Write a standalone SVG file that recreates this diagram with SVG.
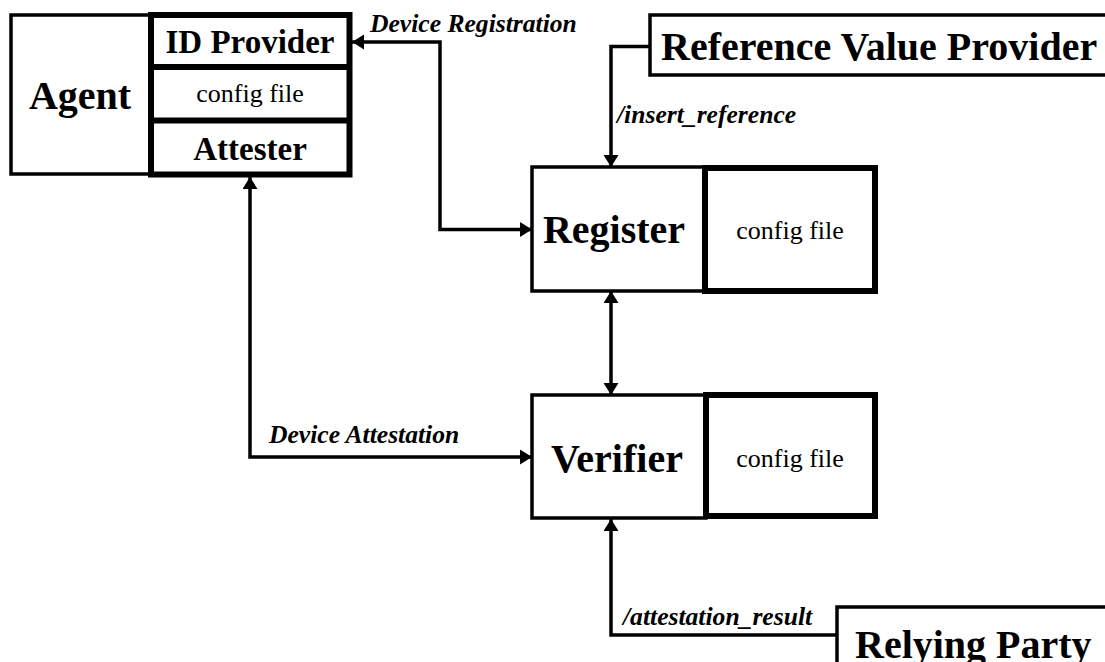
<svg xmlns="http://www.w3.org/2000/svg" width="1105" height="662" viewBox="0 0 1105 662">
  <defs>
    <style>
      .thin { fill: #ffffff; stroke: #000000; stroke-width: 3.5; }
      .thick { fill: #ffffff; stroke: #000000; stroke-width: 6; }
      .div { stroke: #000000; stroke-width: 6; }
      .wire { fill: none; stroke: #000000; stroke-width: 3.5; }
      .t { font-family: "Liberation Serif", "Times New Roman", serif; fill: #000000; }
      .big { font-size: 40px; font-weight: bold; text-anchor: middle; }
      .mid { font-size: 33px; font-weight: bold; text-anchor: middle; }
      .cfg { font-size: 26px; text-anchor: middle; }
      .lbl { font-size: 25.6px; font-weight: bold; font-style: italic; }
      .ext { font-size: 40px; font-weight: bold; }
    </style>
    <marker id="arrow" markerUnits="userSpaceOnUse" markerWidth="13" markerHeight="16" refX="12" refY="7.5" orient="auto-start-reverse" viewBox="0 0 13 16">
      <path d="M0,0 L12,7.5 L0,15 z" fill="#000000"/>
    </marker>
  </defs>

  <rect width="1105" height="662" fill="#ffffff"/>

  <!-- connectors -->
  <g id="connectors">
    <path class="wire" d="M532,229.5 H440 V42 H352" marker-start="url(#arrow)" marker-end="url(#arrow)"/>
    <path class="wire" d="M250,177 V457 H532" marker-start="url(#arrow)" marker-end="url(#arrow)"/>
    <path class="wire" d="M611,291 V395" marker-start="url(#arrow)" marker-end="url(#arrow)"/>
    <path class="wire" d="M650,46.5 H611 V167" marker-end="url(#arrow)"/>
    <path class="wire" d="M837,635 H611 V519" marker-end="url(#arrow)"/>
    <text class="t lbl" x="370" y="32">Device Registration</text>
    <text class="t lbl" x="269" y="443">Device Attestation</text>
    <text class="t lbl" x="617" y="123">/insert_reference</text>
    <text class="t lbl" x="623" y="625">/attestation_result</text>
  </g>

  <!-- agent with its three parts -->
  <g id="agent">
    <rect class="thin" x="11" y="15" width="140" height="159"/>
    <text class="t big" x="80" y="109">Agent</text>
  </g>
  <g id="agent-parts">
    <rect class="thick" x="151" y="15" width="198.5" height="159.5"/>
    <line class="div" x1="151" y1="67" x2="349.5" y2="67"/>
    <line class="div" x1="151" y1="120.5" x2="349.5" y2="120.5"/>
  </g>
  <g id="id-provider">
    <text class="t mid" x="250" y="53">ID Provider</text>
  </g>
  <g id="agent-config">
    <text class="t cfg" x="250" y="102">config file</text>
  </g>
  <g id="attester">
    <text class="t mid" x="250" y="160">Attester</text>
  </g>

  <!-- register -->
  <g id="register">
    <rect class="thin" x="532" y="167" width="173" height="124"/>
    <text class="t big" x="614" y="243">Register</text>
  </g>
  <g id="register-config">
    <rect class="thick" x="705" y="168" width="170" height="123"/>
    <text class="t cfg" x="790" y="239">config file</text>
  </g>

  <!-- verifier -->
  <g id="verifier">
    <rect class="thin" x="532" y="395" width="174" height="123"/>
    <text class="t big" x="617" y="472">Verifier</text>
  </g>
  <g id="verifier-config">
    <rect class="thick" x="706" y="395" width="169" height="121"/>
    <text class="t cfg" x="790" y="467">config file</text>
  </g>

  <!-- external parties -->
  <g id="reference-value-provider">
    <rect class="thin" x="650" y="15" width="500" height="60"/>
    <text class="t ext" x="661" y="60">Reference Value Provider</text>
  </g>
  <g id="relying-party">
    <rect class="thin" x="837" y="607" width="400" height="100"/>
    <text class="t ext" x="855" y="658">Relying Party</text>
  </g>
</svg>
